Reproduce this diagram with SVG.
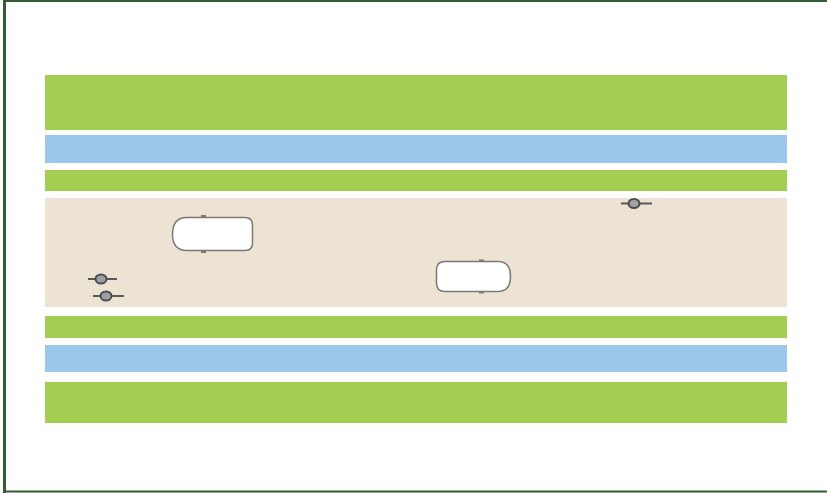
<svg xmlns="http://www.w3.org/2000/svg" width="827" height="493" viewBox="0 0 827 493">
<style>
.g{fill:#a2cf52}.b{fill:#9bc8ea}.r{fill:#ede3d4}
.car{fill:#fff;stroke:#7d7970;stroke-width:1.5}
.nub{fill:#7d7970}
.bar{stroke:#5a585e;stroke-width:2;fill:none}
.rider{fill:#a0a0a4;stroke:#4c4b52;stroke-width:2}
</style>
<rect width="827" height="493" fill="#fff"/>
<path d="M4 491.500H827M4 1H827" fill="none" stroke="#355c32" stroke-width="2"/>
<path d="M4.500 0V493" stroke="#355c32" stroke-width="3" fill="none"/>
<rect class="g" x="45" y="75" width="742" height="55"/>
<rect class="b" x="45" y="135" width="742" height="28"/>
<rect class="g" x="45" y="170" width="742" height="21"/>
<rect class="r" x="45" y="198" width="742" height="109"/>
<rect class="g" x="45" y="316" width="742" height="22"/>
<rect class="b" x="45" y="345" width="742" height="27"/>
<rect class="g" x="45" y="382" width="742" height="41"/>
<g id="car1"><path class="car" d="M187 217.500H245Q252.500 217.500 252.500 225V243Q252.500 250.500 245 250.500H187Q172.500 250.500 172.500 234Q172.500 217.500 187 217.500Z"/><rect class="nub" x="201" y="215" width="5" height="2.500"/><rect class="nub" x="201" y="250.500" width="5" height="2.500"/></g>
<g id="car2"><path class="car" d="M445 261.500H498Q510.500 261.500 510.500 276.500Q510.500 291.500 498 291.500H445Q436.500 291.500 436.500 283V270Q436.500 261.500 445 261.500Z"/><rect class="nub" x="479" y="259.500" width="5" height="2"/><rect class="nub" x="479" y="291.500" width="5" height="2"/></g>
<g id="rider1"><path class="bar" d="M88 279H117"/><ellipse class="rider" cx="101" cy="279" rx="5.500" ry="4.500"/></g>
<g id="rider2"><path class="bar" d="M93 296H124"/><ellipse class="rider" cx="106" cy="296" rx="5.500" ry="4.500"/></g>
<g id="rider3"><path class="bar" d="M621 203.500H652"/><ellipse class="rider" cx="634" cy="203.500" rx="5.500" ry="4.500"/></g>
<g id="connectors"></g>
</svg>
